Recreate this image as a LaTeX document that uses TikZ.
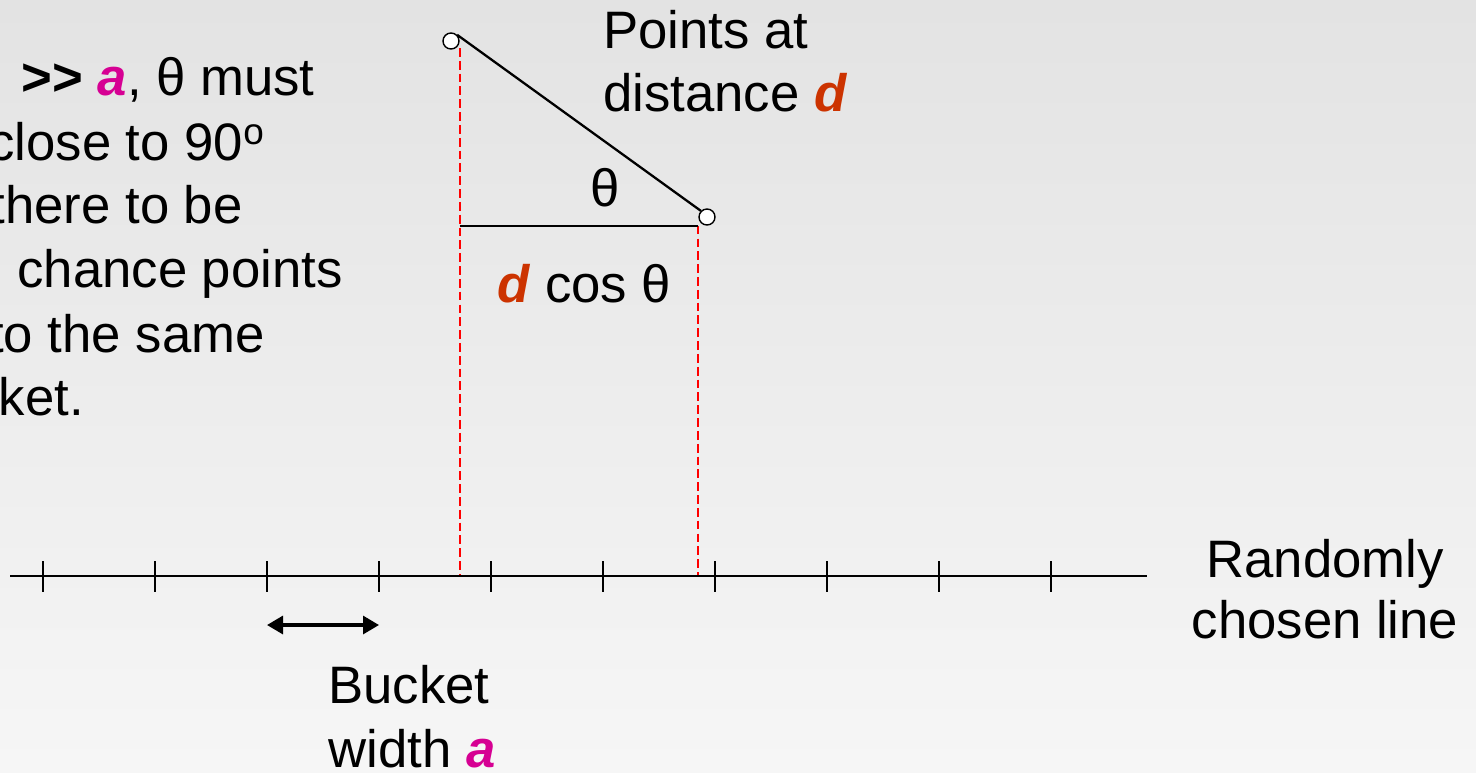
\documentclass[tikz,border=0pt]{standalone}
\usepackage{fontspec}
\setmainfont{Liberation Sans}
\usepackage{tikz}
\usetikzlibrary{arrows.meta, calc, positioning}
\definecolor{BucketMagenta}{RGB}{214,0,147}
\definecolor{DistOrange}{RGB}{204,51,0}
\definecolor{ProjRed}{RGB}{255,0,0}
\newcommand{\vara}{\textcolor{BucketMagenta}{\textbf{\textit{a}}}}
\newcommand{\vard}{\textcolor{DistOrange}{\textbf{\textit{d}}}}

\begin{document}
\begin{tikzpicture}[x=0.02cm,y=-0.02cm,
    txt/.style={inner sep=0pt,font=\fontsize{30}{36}\selectfont},
    pt/.style={circle,draw=black,fill=white,line width=0.8pt,
               minimum size=0.32cm,inner sep=0pt},
    proj/.style={draw=ProjRed,line width=1.1pt,dash pattern=on 5pt off 2.3pt},
    leg/.style={draw=black,line width=1.3pt},
    axis/.style={draw=black,line width=1.4pt},
    tick/.style={draw=black,line width=0.9pt},
    span/.style={{Triangle[length=0.32cm,width=0.36cm]}-{Triangle[length=0.32cm,width=0.36cm]},
                 line width=1.8pt}
  ]
    % background
    \useasboundingbox (0,0) rectangle (1476,772);
    \clip (0,0) rectangle (1476,772);
    \fill[top color=gray!22,bottom color=gray!7] (0,0) rectangle (1476,772);

    % left explanation
    \node[txt,anchor=base east] (n1) at (315,95) {\textbf{{>}{>}} \vara, θ must};
    \node[txt,anchor=base east] (n2) at (265,160) {close to 90\textsuperscript{o}};
    \node[txt,anchor=base east] (n3) at (243,223) {there to be};
    \node[txt,anchor=base east] (n4) at (343,287) {chance points};
    \node[txt,anchor=base east] (n5) at (265,352) {to the same};
    \node[txt,anchor=base east] (n6) at (84,415) {ket.};

    % the two points
    \node[pt] (p1) at (451,41) {};
    \node[pt] (p2) at (707,217) {};
    \coordinate (foot) at (p1.east |- p2.south);
    \coordinate (corner) at (p2.west |- p2.south);

    % randomly chosen line
    \coordinate (lineL) at (10,576);
    \coordinate (lineR) at (1147,576);

    % projections
    \draw[proj] ($(p1.east)+(0,7)$) -- (p1.east |- lineL);
    \draw[proj] (corner) -- (corner |- lineL);
    \draw[leg] (p1.45) -- (p2.135);
    \draw[leg] (foot) -- (corner);

    \draw[axis] (lineL) -- (lineR);
    \foreach \x in {43,155,...,1051}
      \draw[tick] (\x,561) -- (\x,592);

    % bucket width
    \coordinate (bw1) at (267,625);
    \coordinate (bw2) at (379,625);
    \draw[span] (bw1) -- (bw2);

    % labels
    \node[txt,anchor=base west] (pts1) at (603,48) {Points at};
    \node[txt,anchor=base west] (pts2) at (603,111) {distance \vard};
    \node[txt,anchor=base] (theta) at (605,206) {θ};
    \node[txt,anchor=base west] (dcos) at (497,302) {\vard{} cos θ};
    \node[txt,anchor=base] (rl1) at (1325,577) {Randomly};
    \node[txt,anchor=base] (rl2) at (1325,638) {chosen line};
    \node[txt,anchor=base west] (bk1) at (328,703) {Bucket};
    \node[txt,anchor=base west] (bk2) at (328,767) {width \vara};
\end{tikzpicture}
\end{document}
